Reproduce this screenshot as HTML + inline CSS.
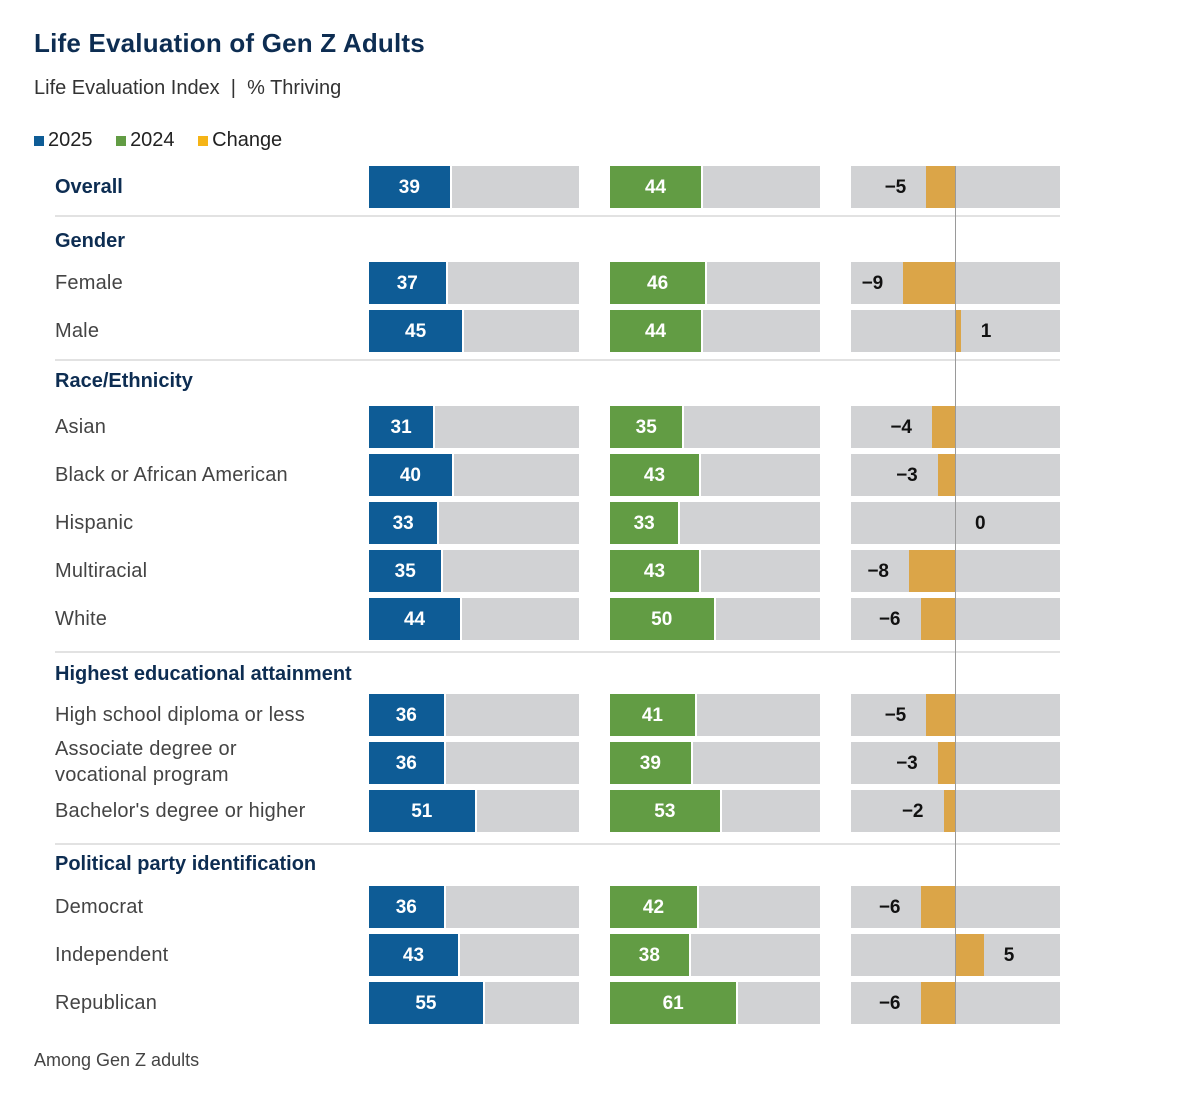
<!DOCTYPE html>
<html><head><meta charset="utf-8"><style>
body{margin:0;background:#fff;font-family:"Liberation Sans",sans-serif;}
#c{position:relative;width:1188px;height:1094px;overflow:hidden}
.a{position:absolute}
.lbl{font-size:20px;color:#444;letter-spacing:0.2px}
.hd{font-size:20px;font-weight:bold;color:#0d2d52}
.v{font-size:19px;font-weight:bold;color:#fff;text-align:center;line-height:44px}
.cv{font-size:19px;font-weight:bold;color:#111;line-height:44px}
</style></head><body>
<div id="c">
<div class="a" style="left:34px;top:28px;font-size:26px;font-weight:bold;color:#0d2d52;letter-spacing:0.2px">Life Evaluation of Gen Z Adults</div>
<div class="a" style="left:34px;top:77px;font-size:20px;color:#333">Life Evaluation Index &nbsp;|&nbsp; % Thriving</div>
<div class="a" style="left:34px;top:129px;font-size:20px;color:#222">
<span><span style="display:inline-block;width:10px;height:10px;background:#0e5c96;margin-right:4px"></span>2025</span>
<span style="margin-left:18px"><span style="display:inline-block;width:10px;height:10px;background:#629c44;margin-right:4px"></span>2024</span>
<span style="margin-left:18px"><span style="display:inline-block;width:10px;height:10px;background:#f5b417;margin-right:4px"></span>Change</span>
</div>
<div class="a" style="left:34px;top:1050px;font-size:18px;color:#444">Among Gen Z adults</div>
</div>
<script>
const labels=["Overall","Female","Male","Asian","Black or African American","Hispanic","Multiracial","White","High school diploma or less","Associate degree or<br>vocational program","Bachelor's degree or higher","Democrat","Independent","Republican"];
const v2025=[39,37,45,31,40,33,35,44,36,36,51,36,43,55];
const v2024=[44,46,44,35,43,33,43,50,41,39,53,42,38,61];
const change=[-5,-9,1,-4,-3,0,-8,-6,-5,-3,-2,-6,5,-6];
const headers=["Gender","Race/Ethnicity","Highest educational attainment","Political party identification"];
const rowY=[187,283,331,427,475,523,571,619,715,763,811,907,955,1003];
const headerY=[242,382,675,865];
const sepY=[215,359,651,843];
const c=document.getElementById('c');
const S=2.07, CS=5.75, Z=955, H=42;
function d(cls,st,html){const e=document.createElement('div');e.className='a '+cls;e.style.cssText=st;if(html!==undefined)e.innerHTML=html;c.appendChild(e);return e;}
sepY.forEach(y=>{const e=d('', `left:55px;top:${y}px;width:1005px;height:2px;background:#e2e2e2`);

});
headers.forEach((h,i)=>{const e=d('hd',`left:55px;top:${headerY[i]-12}px`,h);

});
labels.forEach((l,i)=>{
 const y=rowY[i], top=y-H/2;
 const two=l.includes('<br>');
 const e=d(i==0?'hd':'lbl',`left:55px;top:${two?y-27:y-12}px;line-height:${two?'26px':'24px'}`,l);
 
 
 [[369,v2025[i],'#0e5c96'],[610,v2024[i],'#629c44']].forEach(([x0,v,col],k)=>{
  const t=d('',`left:${x0}px;top:${top}px;width:210px;height:${H}px;background:#d1d2d4`);
  
  
  const w=v*S;
  const b=d('v',`left:${x0}px;top:${top}px;width:${w}px;height:${H}px;background:${col};border-right:2px solid #fff`,v);
  
  
 });
 const t=d('',`left:851px;top:${top}px;width:209px;height:${H}px;background:#d1d2d4`);
 
 
 const cv=change[i], w=Math.abs(cv)*CS, x=cv<0?Z-w:Z;
 const b=d('',`left:${x}px;top:${top}px;width:${w}px;height:${H}px;background:#dba548`);
 
 
 const txt=cv<0?'\u2212'+Math.abs(cv):String(cv);
 const lb=cv<0?d('cv',`left:${x-20-40}px;top:${top}px;width:40px;text-align:right`,txt):d('cv',`left:${Z+w+20}px;top:${top}px`,txt);
 
 
});
const ax=d('',`left:955px;top:166px;width:1px;height:858px;background:#9a9a9a`);


</script>
</body></html>
